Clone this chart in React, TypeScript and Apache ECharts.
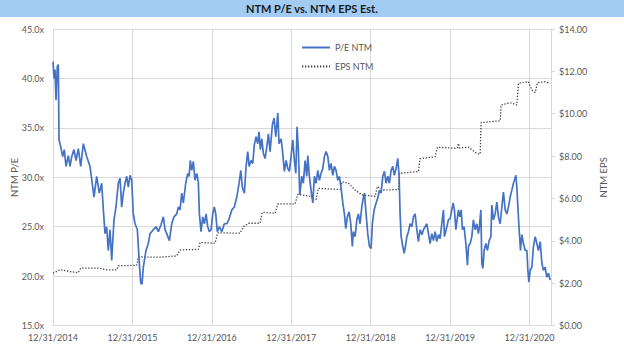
import React, { useEffect, useRef } from "react";
import * as echarts from "echarts";

// x values: years elapsed since 12/31/2014
const peT = [0,0.013,0.025,0.038,0.054,0.067,0.076,0.097,0.122,0.142,0.164,0.193,0.214,0.236,0.264,0.29,0.319,0.349,0.382,0.424,0.466,0.5,0.516,0.55,0.583,0.613,0.634,0.655,0.676,0.696,0.718,0.739,0.768,0.793,0.822,0.844,0.865,0.885,0.907,0.928,0.948,0.97,0.991,1.011,1.033,1.062,1.087,1.105,1.121,1.137,1.171,1.2,1.222,1.263,1.297,1.326,1.36,1.389,1.411,1.432,1.465,1.495,1.524,1.558,1.578,1.599,1.621,1.641,1.671,1.696,1.713,1.729,1.747,1.767,1.788,1.81,1.83,1.843,1.864,1.885,1.906,1.927,1.948,1.969,1.99,2.011,2.031,2.049,2.069,2.094,2.125,2.157,2.188,2.217,2.251,2.283,2.314,2.343,2.364,2.384,2.409,2.431,2.452,2.469,2.494,2.515,2.535,2.557,2.578,2.594,2.611,2.629,2.649,2.67,2.692,2.712,2.733,2.762,2.783,2.805,2.83,2.846,2.872,2.888,2.913,2.935,2.956,2.976,2.997,3.019,3.039,3.057,3.073,3.089,3.107,3.132,3.152,3.174,3.195,3.208,3.228,3.249,3.271,3.291,3.312,3.334,3.354,3.375,3.397,3.417,3.438,3.46,3.48,3.501,3.523,3.543,3.564,3.586,3.606,3.627,3.649,3.669,3.686,3.706,3.728,3.749,3.769,3.782,3.804,3.825,3.845,3.866,3.888,3.908,3.921,3.942,3.963,3.984,4.005,4.021,4.043,4.068,4.089,4.11,4.131,4.152,4.173,4.194,4.215,4.235,4.257,4.278,4.298,4.32,4.341,4.358,4.37,4.383,4.404,4.421,4.437,4.455,4.475,4.496,4.518,4.538,4.559,4.581,4.601,4.622,4.644,4.664,4.685,4.707,4.727,4.748,4.769,4.79,4.811,4.832,4.853,4.874,4.895,4.916,4.928,4.95,4.979,5,5.021,5.038,5.054,5.072,5.088,5.105,5.122,5.139,5.155,5.176,5.198,5.218,5.231,5.252,5.273,5.293,5.315,5.336,5.356,5.369,5.387,5.399,5.412,5.428,5.45,5.47,5.491,5.513,5.525,5.545,5.567,5.588,5.608,5.63,5.651,5.671,5.693,5.714,5.734,5.756,5.777,5.797,5.81,5.827,5.84,5.853,5.869,5.886,5.903,5.923,5.945,5.966,5.979,5.991,6.008,6.029,6.049,6.071,6.092,6.112,6.134,6.155,6.175,6.196,6.218,6.238,6.259];
const peValues = [41.7,40.0,40.9,37.8,41.2,41.4,33.8,33.1,32.1,32.8,31.1,32.2,31.1,32.1,32.8,31.7,32.9,31.1,33.4,32.1,31.1,29.0,28.0,30.1,28.4,29.4,26.7,24.3,25.0,22.6,24.7,21.6,25.7,27.0,29.4,29.9,27.0,28.4,29.4,30.1,29.0,30.2,29.7,26.3,25.3,24.7,21.3,19.3,19.2,20.9,22.6,23.3,24.3,24.7,25.0,24.5,25.2,26.0,24.7,24.3,23.6,25.3,26.0,26.3,27.0,26.7,28.4,27.4,29.4,30.4,30.1,31.7,30.7,31.6,29.7,30.4,29.5,26.3,24.5,26.0,25.3,26.3,25.0,24.5,24.7,26.3,27.0,26.3,24.5,25.0,24.5,25.3,25.3,25.8,26.7,27.0,28.0,29.4,30.7,29.0,28.4,31.1,32.6,31.1,31.7,31.4,33.3,34.1,33.4,34.6,32.8,33.9,32.4,31.9,33.1,34.4,32.6,35.3,36.0,34.1,36.5,33.4,33.9,32.8,30.6,31.7,30.9,30.6,32.1,33.8,31.7,30.4,35.1,32.8,28.2,30.1,29.4,31.7,30.1,32.2,30.1,28.7,27.4,30.1,29.4,30.7,29.7,30.4,30.9,32.1,32.6,32.1,30.7,31.4,30.2,31.1,30.7,29.7,30.1,28.9,27.4,26.3,24.8,26.0,26.5,25.3,23.0,24.5,24.0,25.7,26.3,25.3,27.0,28.0,28.4,26.3,24.3,23.0,22.8,25.3,26.7,27.4,27.9,28.7,28.4,30.1,30.6,29.4,30.1,29.4,30.7,31.1,30.2,30.9,31.9,30.1,26.3,24.0,23.0,22.3,23.0,24.0,24.5,25.3,25.0,26.0,26.3,24.7,23.5,24.7,24.2,24.7,25.0,25.3,24.3,23.3,24.3,23.6,24.5,23.5,24.2,23.8,25.3,26.7,24.0,24.7,25.7,25.8,26.7,27.4,26.7,24.7,25.7,26.7,26.0,26.7,24.7,25.0,23.3,21.1,23.0,23.3,24.0,25.7,24.7,25.3,24.3,25.0,26.7,21.3,20.8,22.6,23.3,22.6,23.6,24.0,27.2,25.7,26.3,27.5,26.0,25.3,27.0,28.5,26.7,26.3,27.0,28.0,28.7,29.4,29.7,30.2,29.0,27.0,24.7,22.6,24.2,23.3,22.6,22.6,20.6,19.4,20.6,20.9,23.0,24.0,23.3,22.6,23.5,21.3,20.6,20.9,19.9,20.3,19.6];

const epsT = [0,0.088,0.214,0.319,0.349,0.592,0.676,0.802,0.822,1.054,1.074,1.348,1.558,1.599,1.83,1.851,2.04,2.074,2.355,2.397,2.46,2.607,2.636,2.796,2.83,3.048,3.082,3.258,3.278,3.312,3.341,3.615,3.64,3.719,3.804,3.892,4.055,4.084,4.16,4.349,4.364,4.601,4.622,4.811,4.84,5.063,5.094,5.105,5.12,5.231,5.336,5.378,5.39,5.63,5.642,5.756,5.84,5.86,5.986,6.029,6.071,6.1,6.196,6.259];
const epsValues = [2.47,2.64,2.55,2.5,2.71,2.71,2.63,2.63,2.82,2.85,3.24,3.23,3.29,3.57,3.6,3.92,3.89,4.38,4.36,4.67,4.83,4.83,5.35,5.3,5.74,5.75,6.2,6.09,5.93,5.95,6.48,6.42,6.79,6.72,6.4,6.17,6.1,6.56,6.4,6.42,7.19,7.27,7.88,7.97,8.42,8.37,8.4,8.6,8.38,8.42,8.13,8.1,9.58,9.67,10.41,10.52,10.41,11.44,11.51,11.12,11.0,11.47,11.51,11.44];

const baseYear = 2014;
const xMax = 6.27;
const titleText = "NTM P/E vs. NTM EPS Est.";

const font = "Lato";
const grey = "#595959";
const gridColor = "#d9d9d9";

export default function App() {
  const ref = useRef<HTMLDivElement>(null);
  useEffect(() => {
    if (!ref.current) return;
    const chart = echarts.init(ref.current, null, { renderer: "svg" });
    const peData = peT.map((t, i) => [t, peValues[i]]);
    const epsData = epsT.map((t, i) => [t, epsValues[i]]);
    chart.setOption({
      animation: false,
      backgroundColor: "#ffffff",
      textStyle: { fontFamily: font },
      graphic: [
        { type: "rect", left: 0, top: 0, shape: { width: 624, height: 17 }, style: { fill: "#A2CCF4" }, z: -1 },
        {
          type: "text",
          left: "center",
          top: 3,
          style: { text: titleText, font: `bold 11px ${font}`, fill: "#1a1a1a" },
        },
      ],
      grid: { left: 53, right: 73, top: 29, bottom: 34.4, outerBoundsMode: "none", containLabel: false },
      legend: {
        orient: "vertical",
        left: 296,
        top: 38,
        itemWidth: 28,
        itemHeight: 10,
        itemGap: 10,
        itemStyle: { opacity: 0 },
        textStyle: { color: grey, fontSize: 9, fontFamily: font },
        data: ["P/E NTM", "EPS NTM"],
      },
      xAxis: {
        type: "value",
        min: 0,
        max: xMax,
        interval: 1,
        axisLine: { show: true, lineStyle: { color: gridColor } },
        axisTick: { show: false },
        splitLine: { show: true, lineStyle: { color: gridColor } },
        axisLabel: {
          color: grey,
          fontSize: 9,
          margin: 7,
          showMaxLabel: false,
          formatter: (v: number) => (Math.abs(v - Math.round(v)) < 1e-6 ? `12/31/${baseYear + Math.round(v)}` : ""),
        },
      },
      yAxis: [
        {
          type: "value",
          min: 15,
          max: 45,
          interval: 5,
          name: "NTM P/E",
          nameLocation: "middle",
          nameGap: 34,
          nameMoveOverlap: false,
          nameTextStyle: { color: grey, fontSize: 9.5 },
          axisLine: { show: true, lineStyle: { color: gridColor } },
          axisTick: { show: false },
          splitLine: { show: true, lineStyle: { color: gridColor } },
          axisLabel: { color: grey, fontSize: 9, margin: 9, formatter: (v: number) => `${v.toFixed(1)}x` },
        },
        {
          type: "value",
          min: 0,
          max: 14,
          interval: 2,
          name: "NTM EPS",
          nameLocation: "middle",
          nameGap: 47,
          nameTextStyle: { color: grey, fontSize: 9.5 },
          axisLine: { show: true, lineStyle: { color: gridColor } },
          axisTick: { show: true, length: 4, lineStyle: { color: gridColor } },
          splitLine: { show: false },
          axisLabel: { color: grey, fontSize: 9, margin: 8, formatter: (v: number) => `$${v.toFixed(2)}` },
        },
      ],
      series: [
        {
          name: "P/E NTM",
          type: "line",
          yAxisIndex: 0,
          data: peData,
          showSymbol: false,
          symbol: "none",
          lineStyle: { color: "#4472C4", width: 1.7 },
          itemStyle: { color: "#4472C4" },
          z: 3,
        },
        {
          name: "EPS NTM",
          type: "line",
          yAxisIndex: 1,
          data: epsData,
          showSymbol: false,
          symbol: "none",
          lineStyle: { color: "#404040", width: 1.3, type: [1.3, 1.7] },
          itemStyle: { color: "#404040" },
          z: 2,
        },
      ],
    });
    return () => chart.dispose();
  }, []);
  return <div ref={ref} style={{ position: "fixed", left: 0, top: 0, width: 624, height: 360 }} />;
}
